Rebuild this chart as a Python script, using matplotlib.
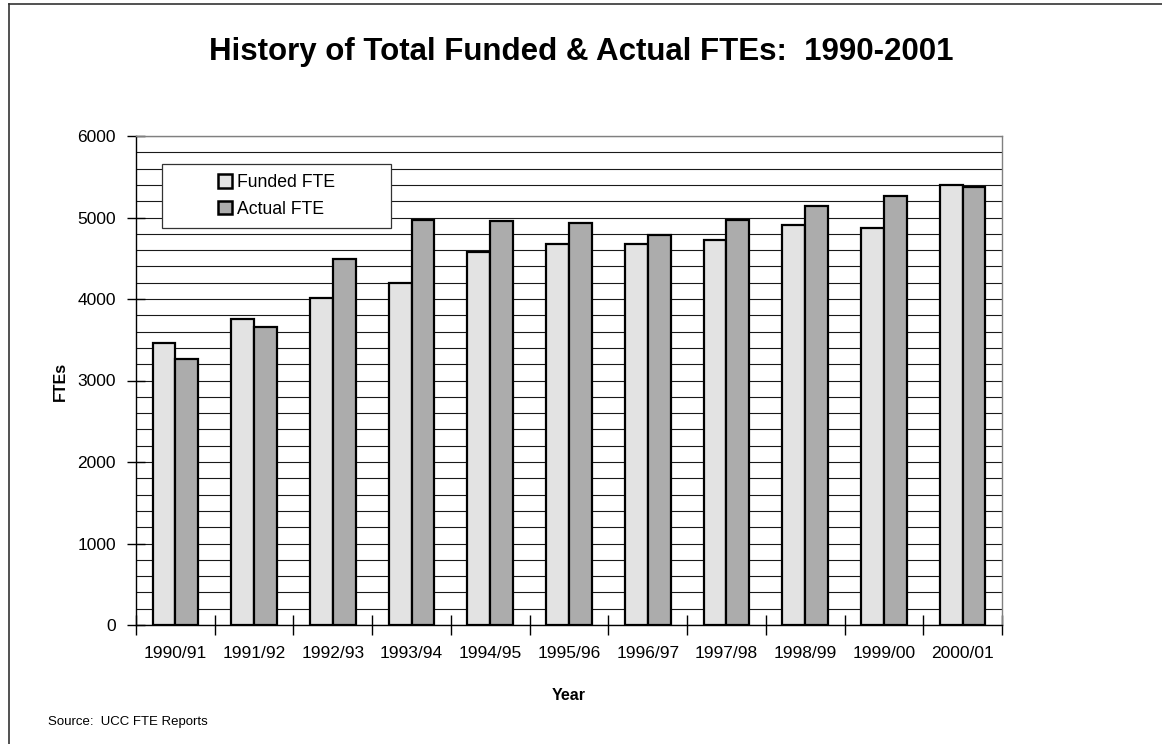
import numpy as np
import matplotlib
matplotlib.use('Agg')
import matplotlib.pyplot as plt
from matplotlib import font_manager
from matplotlib.patches import Rectangle, Patch
from matplotlib.lines import Line2D

# data
years = ['1990/91', '1991/92', '1992/93', '1993/94', '1994/95', '1995/96',
         '1996/97', '1997/98', '1998/99', '1999/00', '2000/01']
funded = [3460, 3750, 4010, 4195, 4580, 4670, 4675, 4720, 4910, 4875, 5395]
actual = [3265, 3655, 4495, 4970, 4960, 4935, 4780, 4970, 5135, 5265, 5380]

installed = {f.name for f in font_manager.fontManager.ttflist}
narrow = 'Liberation Sans Narrow' in installed
plt.rcParams['font.family'] = ['Liberation Sans', 'DejaVu Sans']

W, H = 1162, 744
fig = plt.figure(figsize=(W / 100, H / 100), dpi=100)

# plot area in pixels: x 136..1002, y 136..625
ax = fig.add_axes([136 / W, (H - 625) / H, 866 / W, 489 / H])

x = np.arange(len(years))
bw = 0.29
ax.bar(x - bw / 2, funded, bw, color='#e3e3e3', edgecolor='black',
       linewidth=1.6, zorder=3, label='Funded FTE')
ax.bar(x + bw / 2, actual, bw, color='#acacac', edgecolor='black',
       linewidth=1.6, zorder=3, label='Actual FTE')

ax.set_xlim(-0.5, len(years) - 0.5)
ax.set_ylim(0, 6000)

# y axis: labels every 1000, grid every 200
ax.set_yticks(np.arange(0, 6001, 1000))
ax.set_yticks(np.arange(0, 6001, 200), minor=True)
ax.tick_params(axis='y', which='major', direction='inout', length=13,
               width=1, pad=8, labelsize=12.5)
ax.tick_params(axis='y', which='minor', length=0)
ax.grid(True, axis='y', which='both', color='#1a1a1a', linewidth=0.8, zorder=1)
ax.set_axisbelow(True)

# x axis: labels at centres, tick marks between groups
ax.set_xticks(x)
ax.set_xticklabels(years)
ax.set_xticks(np.arange(-0.5, len(years), 1.0), minor=True)
ax.tick_params(axis='x', which='major', length=0, pad=15, labelsize=12.5)
ax.tick_params(axis='x', which='minor', direction='inout', length=14, width=1)

for side in ['left', 'bottom']:
    ax.spines[side].set_color('black')
    ax.spines[side].set_linewidth(1.0)
for side in ['top', 'right']:
    ax.spines[side].set_color('#808080')
    ax.spines[side].set_linewidth(1.0)

# legend: white box wider than its content
box = Rectangle((0.030, 0.812), 0.264, 0.131, transform=ax.transAxes,
                facecolor='white', edgecolor='#333333', linewidth=0.9, zorder=4)
ax.add_patch(box)
handles = [Patch(facecolor='#e3e3e3', edgecolor='black', linewidth=1.8),
           Patch(facecolor='#acacac', edgecolor='black', linewidth=1.8)]
ax.legend(handles, ['Funded FTE', 'Actual FTE'], loc='center',
          bbox_to_anchor=(0.162, 0.8775), bbox_transform=ax.transAxes,
          frameon=False, fontsize=12.7, handlelength=0.8, handleheight=0.8,
          handletextpad=0.3, labelspacing=0.55, borderpad=0.0)

# title
if narrow:
    fig.text(581 / W, 1 - 60 / H, 'History of Total Funded & Actual FTEs:  1990-2001',
             ha='center', va='baseline', fontsize=26, fontweight='bold',
             family=['Liberation Sans Narrow', 'Liberation Sans'])
else:
    fig.text(581 / W, 1 - 60 / H, 'History of Total Funded & Actual FTEs:  1990-2001',
             ha='center', va='baseline', fontsize=22.5, fontweight='bold')

fig.text(569 / W, 1 - 695 / H, 'Year', ha='center', va='center',
         fontsize=11.5, fontweight='bold')
fig.text(60 / W, 1 - 381 / H, 'FTEs', ha='center', va='center',
         rotation=90, fontsize=11.5, fontweight='bold')
fig.text(48 / W, 1 - 722 / H, 'Source:  UCC FTE Reports', ha='left', va='center',
         fontsize=9.5)

# frame edges of the original sheet (top and left)
fig.add_artist(Line2D([9 / W, 1], [1 - 4 / H, 1 - 4 / H], color='#333333',
                      linewidth=1.2, transform=fig.transFigure))
fig.add_artist(Line2D([9 / W, 9 / W], [0, 1 - 4 / H], color='#333333',
                      linewidth=1.2, transform=fig.transFigure))

fig.savefig('out.png', dpi=100)
